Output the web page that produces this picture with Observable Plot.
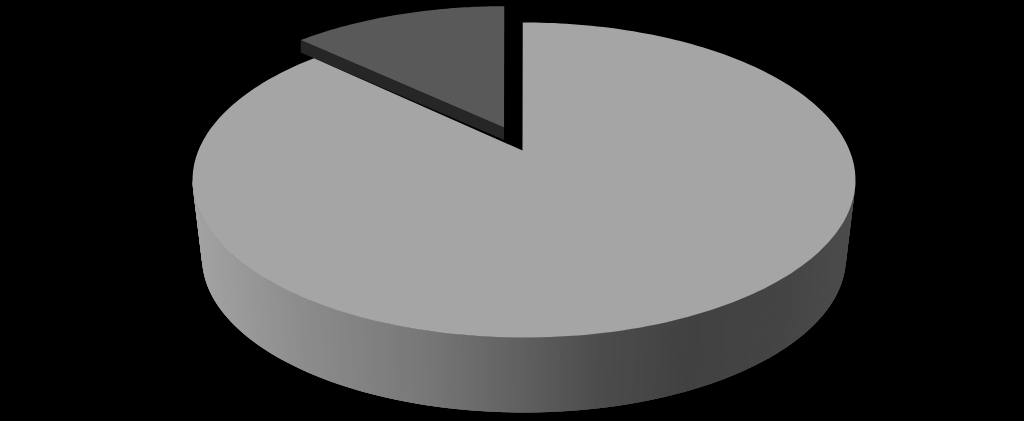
<!DOCTYPE html>
<html>
<head>
<meta charset="utf-8">
<script src="https://cdn.jsdelivr.net/npm/d3@7"></script>
<script src="https://cdn.jsdelivr.net/npm/@observablehq/plot@0.6"></script>
<style>
html,body{margin:0;padding:0;background:#000;overflow:hidden}
svg{display:block;background:#000}
</style>
</head>
<body>
<div id="chart"></div>
<script>
// Chart values
const sliceNames = ["Large slice", "Small slice"];
const sliceShares = [87.1, 12.9];
const sliceTopColors = ["#a5a5a5", "#595959"];
const sliceCutColor = "#262626";
const wallStopX = [192, 300, 420, 520, 600, 690, 790, 855];
const wallStopColor = ["#a3a3a3", "#8c8c8c", "#787878", "#606060", "#4c4c4c", "#414141", "#454545", "#4c4c4c"];

// Layout of the tilted disc
const cx = 523.5, apexY = 150, ax = 325.6, ay = 152, k = 0.1873, centreU = -0.0046;
const topEllipse = {cy: 179.5, rx: 331.5, ry: 157.5};
const botEllipse = {cy: 257, rx: 322, ry: 155};
const shiftX = -18.5, shiftV = 0.155, cutDepth = 12.5;

const project = (u, v, dx = 0) => {
  const w = 1 + k * v;
  return {x: cx + dx + ax * u / w, y: apexY - ay * v / w};
};
const frac = sliceShares[1] / d3.sum(sliceShares);
const startA = centreU;
const endA = startA - frac * 2 * Math.PI;

// Large slice: apex, then the long way round from the top clockwise to the cut
const bigTop = [project(centreU, 0)];
d3.range(0, 241).forEach(i => {
  const a = startA + (2 * Math.PI + endA - startA) * i / 240;
  bigTop.push(project(Math.sin(a), Math.cos(a)));
});

// Small slice, pulled out
const smallRim = d3.range(0, 61).map(i => {
  const a = startA + (endA - startA) * i / 60;
  return project(Math.sin(a), Math.cos(a) + shiftV, shiftX);
});
const smallApex = project(centreU, shiftV, shiftX);
const smallTop = [smallApex, ...smallRim];
const smallLeft = smallRim[smallRim.length - 1];
const smallCut = [
  smallLeft,
  {x: smallLeft.x, y: smallLeft.y + cutDepth},
  {x: smallApex.x, y: smallApex.y + cutDepth},
  smallApex
];

// Wall as narrow strips between the top and bottom rims; each strip overlaps
// the next so that no seam shows between them
const wallColor = d3.scaleLinear().domain(wallStopX).range(wallStopColor).clamp(true);
const N = 200;
const wall = [];
d3.range(N).forEach(i => {
  const p0 = Math.PI * i / N, p1 = Math.PI * Math.min(i + 3, N) / N;
  const t = (e, p) => ({x: cx + e.rx * Math.cos(p), y: e.cy + e.ry * Math.sin(p)});
  const a = t(topEllipse, p0), b = t(topEllipse, p1), c = t(botEllipse, p1), d = t(botEllipse, p0);
  const col = wallColor(t(topEllipse, Math.PI * (i + 0.5) / N).x);
  [a, b, c, d].forEach(q => wall.push({...q, strip: i, col}));
});

const chart = Plot.plot({
  width: 1024,
  height: 421,
  margin: 0,
  style: {background: "#000"},
  x: {domain: [0, 1024], range: [0, 1024], axis: null},
  y: {domain: [0, 421], range: [0, 421], axis: null},
  marks: [
    Plot.line(smallCut, {x: "x", y: "y", fill: sliceCutColor, stroke: "none", curve: "linear"}),
    Plot.line(smallTop, {x: "x", y: "y", fill: sliceTopColors[1], stroke: "none", curve: "linear", title: () => sliceNames[1]}),
    Plot.line(wall, {x: "x", y: "y", z: "strip", fill: "col", stroke: "none", curve: "linear"}),
    Plot.line(bigTop, {x: "x", y: "y", fill: sliceTopColors[0], stroke: "none", curve: "linear", title: () => sliceNames[0]})
  ]
});
document.getElementById("chart").append(chart);
</script>
</body>
</html>
